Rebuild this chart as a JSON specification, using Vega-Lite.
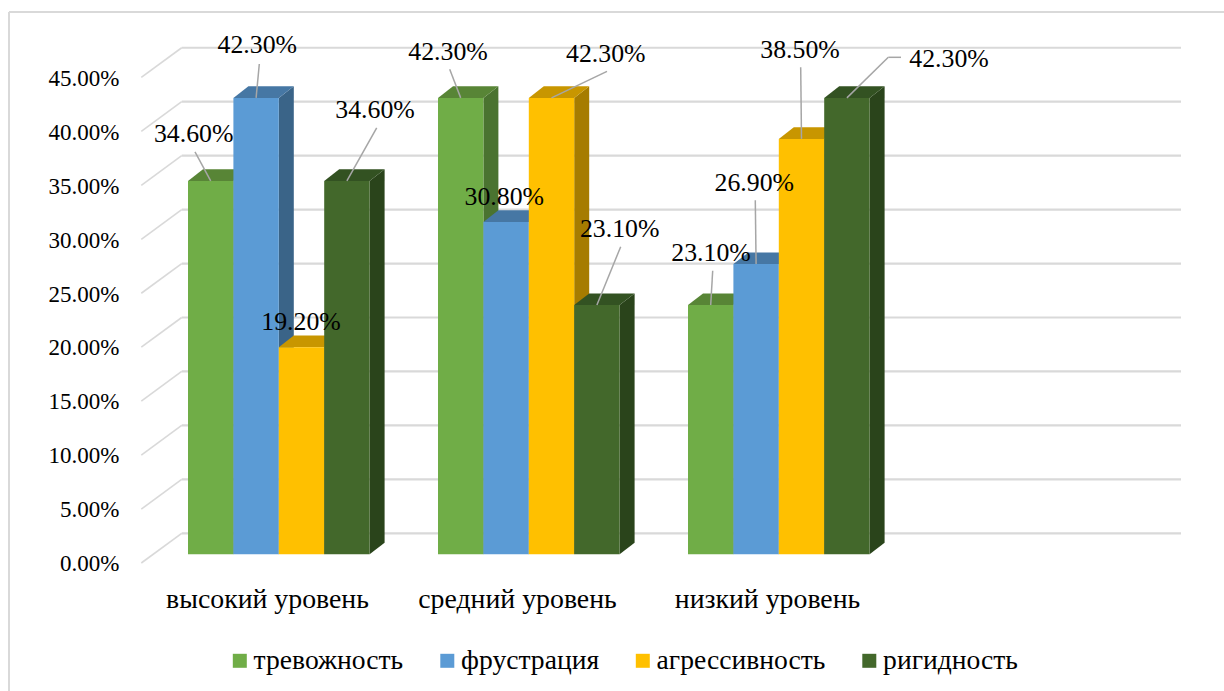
{
  "$schema": "https://vega.github.io/schema/vega-lite/v6.json",
  "autosize": {"type": "none"},
  "padding": {"left": 9, "top": 12, "right": 0, "bottom": 0},
  "width": 1215,
  "height": 679,
  "background": "#ffffff",
  "config": {"view": {"stroke": null}, "font": "Liberation Serif"},
  "datasets": {
    "shares": [
      {"level": "высокий уровень", "series": "тревожность", "share": 0.346},
      {"level": "высокий уровень", "series": "фрустрация", "share": 0.423},
      {"level": "высокий уровень", "series": "агрессивность", "share": 0.192},
      {"level": "высокий уровень", "series": "ригидность", "share": 0.346},
      {"level": "средний уровень", "series": "тревожность", "share": 0.423},
      {"level": "средний уровень", "series": "фрустрация", "share": 0.308},
      {"level": "средний уровень", "series": "агрессивность", "share": 0.423},
      {"level": "средний уровень", "series": "ригидность", "share": 0.231},
      {"level": "низкий уровень", "series": "тревожность", "share": 0.231},
      {"level": "низкий уровень", "series": "фрустрация", "share": 0.269},
      {"level": "низкий уровень", "series": "агрессивность", "share": 0.385},
      {"level": "низкий уровень", "series": "ригидность", "share": 0.423}
    ],
    "ticks": [
      {"tick": 0}, {"tick": 0.05}, {"tick": 0.1}, {"tick": 0.15}, {"tick": 0.2},
      {"tick": 0.25}, {"tick": 0.3}, {"tick": 0.35}, {"tick": 0.4}, {"tick": 0.45}
    ]
  },
  "layer": [
    {
      "description": "Left edge of the chart frame; also carries the category axis",
      "data": {"values": [{"edge": -0.536}]},
      "mark": {"type": "rule", "color": "#D9D9D9", "strokeWidth": 2},
      "encoding": {
        "x": {
          "field": "edge", "type": "quantitative", "title": null,
          "scale": {"domain": [-0.536, 4.324], "nice": false, "zero": false},
          "axis": {
            "values": [0.5, 1.5, 2.5],
            "labelExpr": "['высокий уровень','средний уровень','низкий уровень'][floor(datum.value)]",
            "grid": false, "ticks": false, "domain": false,
            "labelFont": "Liberation Serif", "labelFontSize": 27.8, "labelColor": "#000000", "labelLimit": 400,
            "labelPadding": 0, "offset": -106, "labelOffset": -1, "labelBaseline": "top", "labelFlush": false, "labelOverlap": false
          }
        }
      }
    },
    {
      "description": "Top edge of the chart frame; also carries the value axis",
      "data": {"values": [{"edge": 0.50259}]},
      "mark": {"type": "rule", "color": "#D9D9D9", "strokeWidth": 2},
      "encoding": {
        "y": {
          "field": "edge", "type": "quantitative", "title": null,
          "scale": {"domain": [-0.12669, 0.50259], "nice": false, "zero": false},
          "axis": {
            "values": [0, 0.05, 0.1, 0.15, 0.2, 0.25, 0.3, 0.35, 0.4, 0.45],
            "format": ".2%",
            "grid": false, "ticks": false, "domain": false,
            "labelFont": "Liberation Serif", "labelFontSize": 23, "labelColor": "#000000",
            "labelPadding": 2, "offset": -112, "labelOffset": 9.5, "labelOverlap": false
          }
        }
      }
    },
    {
      "description": "Back wall gridlines",
      "data": {"name": "ticks"},
      "transform": [{"calculate": "datum.tick + 0.01946", "as": "back"}],
      "mark": {"type": "rule", "color": "#D9D9D9", "strokeWidth": 2.2},
      "encoding": {
        "x": {"datum": 0.1548, "type": "quantitative"},
        "x2": {"datum": 4.152},
        "y": {"field": "back", "type": "quantitative"}
      }
    },
    {
      "description": "Side wall gridlines running to the front edge",
      "data": {"name": "ticks"},
      "transform": [
        {"calculate": "datum.tick + 0.01946", "as": "back"},
        {"calculate": "datum.tick - 0.00806", "as": "front"}
      ],
      "mark": {"type": "rule", "color": "#D9D9D9", "strokeWidth": 1.6},
      "encoding": {
        "x": {"datum": -0.0068, "type": "quantitative"},
        "x2": {"datum": 0.1548},
        "y": {"field": "front", "type": "quantitative"},
        "y2": {"field": "back"}
      }
    },
    {
      "data": {"name": "shares"},
      "transform": [
        {"calculate": "indexof(['высокий уровень','средний уровень','низкий уровень'], datum.level)", "as": "c"},
        {"calculate": "indexof(['тревожность','фрустрация','агрессивность','ригидность'], datum.series)", "as": "s"},
        {"calculate": "datum.c + 0.18 + 0.1816 * datum.s", "as": "x0"},
        {"calculate": "datum.x0 + 0.1816", "as": "x1"},
        {"calculate": "datum.x0 + 0.0908", "as": "xc"},
        {"calculate": "[[[0.2028,0.3895,0.208,0.3729],[0.4572,0.472,0.4652,0.4544],[0.632,0.2153,null,null],[0.928,0.4118,0.9348,0.3951]],[[1.22,0.4655,1.2268,0.4495],[1.4452,0.3314,null,null],[1.8512,0.4637,1.856,0.4476],[1.9068,0.3015,1.9108,0.2851]],[[2.272,0.2795,2.2788,0.2628],[2.4452,0.3438,2.4492,0.3281],[2.628,0.4674,2.6308,0.4514],[3.224,0.4591,2.9812,0.4606]]][datum.c][datum.s]", "as": "place"},
        {"calculate": "datum.place[0]", "as": "labelX"},
        {"calculate": "datum.place[1]", "as": "labelY"},
        {"calculate": "datum.place[2]", "as": "leadX"},
        {"calculate": "datum.place[3]", "as": "leadY"},
        {"calculate": "['#4A7330','#3A6488','#A67C00','#2A441B'][datum.s]", "as": "sideFill"},
        {"calculate": "['#588536','#4677A4','#C89600','#335222'][datum.s]", "as": "topFill"}
      ],
      "layer": [
        {
          "description": "Side faces of the bars",
          "transform": [
            {"calculate": "datum.x1 + 0.06", "as": "xBack"},
            {"fold": ["x1", "xBack"], "as": ["edge", "xEdge"]},
            {"calculate": "datum.edge === 'x1' ? 0 : 0.01075", "as": "rise"},
            {"calculate": "datum.rise", "as": "low"},
            {"calculate": "datum.share + datum.rise", "as": "high"}
          ],
          "mark": {"type": "area", "orient": "vertical"},
          "encoding": {
            "x": {"field": "xEdge", "type": "quantitative"},
            "y": {"field": "low", "type": "quantitative", "stack": null},
            "y2": {"field": "high"},
            "fill": {"field": "sideFill", "type": "nominal", "scale": null, "legend": null},
            "detail": [{"field": "level"}, {"field": "series"}]
          }
        },
        {
          "description": "Top faces of the bars",
          "transform": [
            {"calculate": "datum.share + 0.01075", "as": "topBack"},
            {"fold": ["share", "topBack"], "as": ["edge", "yEdge"]},
            {"calculate": "datum.edge === 'share' ? datum.x0 : datum.x0 + 0.06", "as": "xl"},
            {"calculate": "datum.edge === 'share' ? datum.x1 : datum.x1 + 0.06", "as": "xr"}
          ],
          "mark": {"type": "area", "orient": "horizontal"},
          "encoding": {
            "y": {"field": "yEdge", "type": "quantitative"},
            "x": {"field": "xl", "type": "quantitative", "stack": null},
            "x2": {"field": "xr"},
            "fill": {"field": "topFill", "type": "nominal", "scale": null, "legend": null},
            "detail": [{"field": "level"}, {"field": "series"}]
          }
        },
        {
          "description": "Front faces, with the series legend",
          "mark": {"type": "rect"},
          "encoding": {
            "x": {"field": "x0", "type": "quantitative"},
            "x2": {"field": "x1"},
            "y": {"field": "share", "type": "quantitative"},
            "y2": {"datum": 0},
            "color": {
              "field": "series", "type": "nominal",
              "scale": {
                "domain": ["тревожность", "фрустрация", "агрессивность", "ригидность"],
                "range": ["#70AD47", "#5B9BD5", "#FFC000", "#43682B"]
              },
              "legend": {
                "title": null, "orient": "none", "legendX": 217, "legendY": 635, "padding": 0,
                "direction": "horizontal", "columns": 4, "gridAlign": "none", "columnPadding": 29.5,
                "symbolType": "square", "symbolSize": 196, "symbolStrokeWidth": 0,
                "labelFont": "Liberation Serif", "labelFontSize": 27.6, "labelColor": "#000000", "labelOffset": 0, "labelLimit": 400
              }
            }
          }
        },
        {
          "description": "Leader lines from value labels to their bars",
          "transform": [{"filter": "isValid(datum.leadX)"}],
          "mark": {"type": "rule", "color": "#A6A6A6", "strokeWidth": 1.5},
          "encoding": {
            "x": {"field": "leadX", "type": "quantitative"},
            "x2": {"field": "xc"},
            "y": {"field": "leadY", "type": "quantitative"},
            "y2": {"field": "share"}
          }
        },
        {
          "description": "Horizontal elbow of the leader on the last bar",
          "transform": [{"filter": "datum.c === 2 && datum.s === 3"}],
          "mark": {"type": "rule", "color": "#A6A6A6", "strokeWidth": 1.5},
          "encoding": {
            "x": {"field": "leadX", "type": "quantitative"},
            "x2": {"datum": 3.032},
            "y": {"field": "leadY", "type": "quantitative"}
          }
        },
        {
          "description": "Value labels",
          "mark": {"type": "text", "font": "Liberation Serif", "fontSize": 25.8, "color": "#000000", "align": "center", "baseline": "middle"},
          "encoding": {
            "x": {"field": "labelX", "type": "quantitative"},
            "y": {"field": "labelY", "type": "quantitative"},
            "text": {"field": "share", "type": "quantitative", "format": ".2%"}
          }
        }
      ]
    }
  ]
}
